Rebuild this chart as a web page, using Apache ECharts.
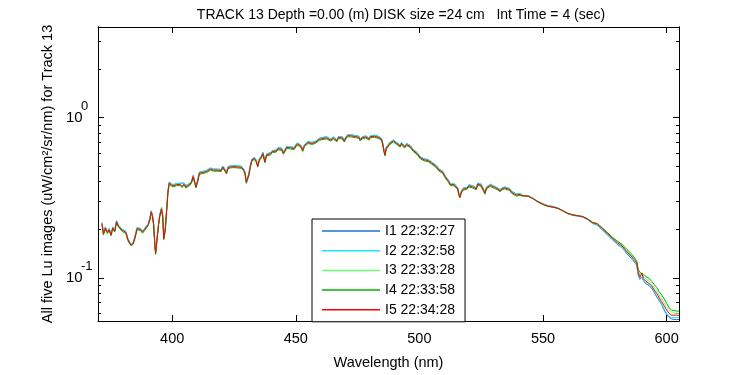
<!DOCTYPE html>
<html><head><meta charset="utf-8">
<script src="https://cdn.jsdelivr.net/npm/echarts@6/dist/echarts.min.js"></script>
<style>html,body{margin:0;padding:0;background:#fff}#c{width:750px;height:375px}</style>
</head><body><div id="c"></div>
<script>
const FONT = '"Liberation Sans",Arial,sans-serif';
const titleText = 'TRACK 13 Depth =0.00 (m) DISK size =24 cm   Int Time = 4 (sec)';
const xName = 'Wavelength (nm)';
const yName = 'All five Lu images (uW/cm\u00b2/sr/nm) for Track 13';
const seriesNames = ['I1 22:32:27','I2 22:32:58','I3 22:33:28','I4 22:33:58','I5 22:34:28'];
const seriesColors = ['#1a6fd8','#1ee6ff','#6cff6c','#00b000','#ff0000'];
const xTicks = [400,450,500,550,600];
const yMajorTicks = [0.1, 1];
const yMinorTicks = [0.06,0.07,0.08,0.09,0.2,0.3,0.4,0.5,0.6,0.7,0.8,0.9,2,3];

const wavelength = [
371.6,372.2,373.0,373.8,374.5,375.3,376.0,376.8,377.5,378.3,
379.0,379.8,380.5,381.3,382.0,382.8,383.5,384.3,385.0,385.8,
386.5,387.3,388.0,388.8,389.5,390.3,391.0,391.5,392.0,392.5,
393.0,393.3,393.8,394.5,395.0,395.7,396.2,396.6,397.2,397.7,
398.3,398.8,399.5,400.3,401.0,401.8,402.5,403.3,404.0,404.8,
405.5,406.3,407.0,407.8,408.5,409.0,409.6,410.3,411.0,411.8,
412.5,413.3,414.0,414.8,415.5,416.1,416.8,417.5,418.3,419.0,
419.8,420.5,421.3,422.0,422.6,423.5,424.3,425.0,425.8,426.5,
427.3,428.0,428.8,429.4,430.0,430.4,431.0,431.6,432.3,433.3,
434.0,434.6,435.3,436.0,436.7,437.5,438.2,439.0,439.8,440.5,
441.3,442.0,442.8,443.6,444.3,445.0,445.6,446.3,447.0,447.8,
448.5,449.3,450.0,450.6,451.3,452.0,452.8,453.5,454.3,455.0,
455.8,456.5,457.3,458.0,458.8,459.5,460.3,461.0,461.8,462.5,
463.3,464.0,464.6,465.3,466.0,466.6,467.3,468.0,468.8,469.6,
470.3,471.0,471.8,472.5,473.3,474.0,474.8,475.5,476.1,476.8,
477.5,478.3,479.0,479.6,480.3,481.0,481.8,482.5,483.3,484.0,
484.7,485.2,485.7,486.1,486.6,487.3,488.0,488.8,489.5,490.2,
490.8,491.5,492.2,492.8,493.5,494.0,494.8,495.5,496.3,497.0,
497.6,498.3,499.0,499.8,500.5,501.3,502.0,502.8,503.5,504.3,
505.0,505.8,506.5,507.2,508.0,508.8,509.5,510.2,511.0,511.8,
512.5,513.3,514.0,514.8,515.5,516.0,516.4,517.0,517.7,518.4,
519.2,520.0,520.8,521.5,522.3,523.0,523.6,524.4,525.0,525.8,
526.5,527.2,528.0,528.7,529.5,530.4,531.5,532.6,533.5,534.5,
535.5,536.5,537.3,538.3,539.3,540.3,542,544,546,548,
550,552,554,556,558,560,562,564,566,568,
570,572,574,576,578,580,582,584,586,587.9,
588.5,589.2,590.0,590.6,591.3,592.0,593.0,594.0,595.0,596.0,
597,598,599,600,601,602,603,604,605];

// I1 (blue)
const luI1 = [
.221,.191,.208,.195,.203,.189,.208,.199,.227,.213,
.218,.201,.206,.195,.178,.167,.162,.167,.183,.206,
.201,.203,.196,.203,.200,.218,.235,.262,.249,.218,
.162,.144,.173,.218,.249,.274,.244,.179,.203,.259,
.350,.396,.401,.381,.374,.388,.384,.389,.378,.391,
.376,.386,.388,.401,.436,.431,.376,.406,.457,.469,
.462,.472,.469,.477,.485,.497,.477,.473,.477,.469,
.475,.499,.492,.459,.495,.499,.492,.502,.497,.499,
.493,.497,.482,.462,.401,.391,.447,.502,.553,.564,
.543,.505,.556,.573,.607,.538,.594,.587,.604,.624,
.634,.627,.650,.655,.645,.609,.599,.662,.675,.658,
.655,.652,.670,.695,.680,.675,.633,.680,.686,.711,
.716,.700,.718,.713,.721,.743,.739,.753,.746,.759,
.749,.736,.729,.756,.759,.729,.763,.761,.759,.726,
.759,.784,.790,.782,.763,.773,.759,.766,.737,.759,
.773,.769,.776,.746,.773,.780,.776,.763,.766,.761,
.743,.690,.624,.594,.655,.675,.700,.716,.726,.739,
.700,.711,.675,.700,.692,.665,.690,.680,.670,.655,
.631,.624,.607,.609,.568,.566,.553,.556,.548,.533,
.528,.530,.508,.495,.477,.472,.462,.438,.426,.406,
.388,.386,.388,.378,.365,.335,.325,.350,.363,.370,
.367,.381,.384,.376,.384,.365,.391,.389,.384,.376,
.343,.370,.378,.384,.391,.372,.365,.355,.365,.369,
.365,.361,.347,.340,.333,.337,.327,.326,.314,.300,
.290,.282,.279,.273,.263,.252,.246,.243,.240,.231,
.219,.213,.199,.186,.173,.162,.154,.141,.131,.120,
.104,.098,.101,.096,.093,.091,.089,.086,.081,.076,
.072,.068,.063,.059,.0565,.0555,.055,.055,.055];

// I2 (cyan)
const luI2 = [
.221,.191,.208,.195,.203,.189,.208,.199,.227,.213,
.218,.201,.206,.195,.178,.167,.162,.167,.183,.206,
.201,.203,.196,.203,.200,.218,.235,.262,.249,.218,
.162,.144,.173,.218,.249,.274,.244,.179,.203,.259,
.350,.396,.401,.381,.374,.388,.384,.389,.378,.391,
.376,.386,.388,.401,.436,.431,.376,.406,.457,.469,
.462,.472,.469,.477,.485,.497,.477,.473,.477,.469,
.475,.499,.492,.459,.495,.499,.492,.502,.497,.499,
.493,.497,.482,.462,.401,.391,.447,.502,.553,.564,
.543,.505,.556,.573,.607,.538,.594,.587,.604,.624,
.634,.627,.650,.655,.645,.609,.599,.662,.675,.658,
.655,.652,.670,.695,.680,.675,.633,.680,.686,.711,
.716,.700,.718,.713,.721,.743,.739,.753,.746,.759,
.749,.736,.729,.756,.759,.729,.763,.761,.759,.726,
.759,.784,.790,.782,.763,.773,.759,.766,.737,.759,
.773,.769,.776,.746,.773,.780,.776,.763,.766,.761,
.743,.690,.624,.594,.655,.675,.700,.716,.726,.739,
.700,.711,.675,.700,.692,.665,.690,.680,.670,.655,
.631,.624,.607,.609,.568,.566,.553,.556,.548,.533,
.528,.530,.508,.495,.477,.472,.462,.438,.426,.406,
.388,.386,.388,.378,.365,.335,.325,.350,.363,.370,
.367,.381,.384,.376,.384,.365,.391,.389,.384,.376,
.343,.370,.378,.384,.391,.372,.365,.355,.365,.369,
.365,.361,.347,.340,.333,.337,.327,.326,.314,.300,
.290,.282,.279,.273,.263,.252,.246,.243,.240,.231,
.219,.214,.200,.187,.174,.163,.155,.142,.132,.121,
.105,.099,.102,.097,.094,.092,.090,.087,.082,.077,
.073,.069,.064,.060,.0575,.0565,.0565,.0565,.0565];

// I3 (light green)
const luI3 = [
.218,.188,.205,.192,.200,.186,.205,.196,.224,.210,
.215,.198,.203,.192,.175,.165,.160,.165,.180,.203,
.198,.200,.193,.200,.197,.215,.232,.258,.245,.215,
.160,.142,.170,.215,.245,.270,.240,.176,.200,.255,
.345,.390,.395,.375,.368,.382,.378,.383,.372,.385,
.370,.380,.382,.395,.430,.425,.370,.400,.450,.462,
.455,.465,.462,.470,.478,.490,.470,.466,.470,.462,
.468,.492,.485,.452,.488,.492,.485,.495,.490,.492,
.486,.490,.475,.455,.395,.385,.440,.495,.545,.556,
.535,.498,.548,.565,.598,.530,.585,.578,.595,.615,
.625,.618,.640,.645,.635,.600,.590,.652,.665,.648,
.645,.642,.660,.685,.670,.665,.624,.670,.676,.700,
.705,.690,.707,.702,.710,.732,.728,.742,.735,.748,
.738,.725,.718,.745,.748,.718,.752,.750,.748,.715,
.748,.772,.778,.770,.752,.762,.748,.755,.726,.748,
.762,.758,.765,.735,.762,.768,.765,.752,.755,.750,
.732,.680,.615,.585,.645,.665,.690,.705,.715,.728,
.690,.700,.665,.690,.682,.655,.680,.670,.660,.645,
.622,.615,.598,.600,.560,.558,.545,.548,.540,.525,
.520,.522,.500,.488,.470,.465,.455,.432,.420,.400,
.382,.380,.382,.372,.360,.330,.320,.345,.358,.365,
.362,.375,.378,.370,.378,.360,.385,.383,.378,.370,
.338,.365,.372,.378,.385,.367,.360,.350,.360,.364,
.360,.356,.342,.335,.328,.332,.325,.324,.312,.298,
.288,.280,.277,.272,.262,.252,.247,.244,.241,.233,
.221,.217,.204,.191,.178,.168,.160,.147,.137,.126,
.110,.104,.108,.102,.099,.097,.095,.091,.087,.083,
.078,.074,.070,.066,.063,.061,.060,.060,.060];

// I4 (green)
const luI4 = [
.215,.185,.202,.189,.197,.183,.202,.193,.221,.207,
.212,.195,.200,.189,.172,.163,.158,.163,.177,.200,
.195,.197,.190,.197,.194,.212,.229,.254,.241,.212,
.158,.140,.167,.212,.241,.266,.236,.173,.197,.251,
.340,.384,.389,.369,.362,.376,.372,.377,.366,.379,
.364,.374,.376,.389,.424,.419,.364,.394,.443,.455,
.448,.458,.455,.463,.471,.483,.463,.459,.463,.455,
.461,.485,.478,.445,.481,.485,.478,.488,.483,.485,
.479,.483,.468,.448,.389,.379,.433,.488,.537,.548,
.527,.491,.540,.557,.589,.522,.576,.569,.586,.606,
.616,.609,.630,.635,.625,.591,.581,.642,.655,.638,
.635,.632,.650,.675,.660,.655,.615,.660,.666,.690,
.694,.680,.696,.691,.699,.721,.717,.731,.724,.737,
.727,.714,.707,.734,.737,.707,.741,.739,.737,.704,
.737,.760,.766,.758,.741,.751,.737,.744,.715,.737,
.751,.747,.754,.724,.751,.756,.754,.741,.744,.739,
.721,.670,.606,.576,.635,.655,.680,.694,.704,.717,
.680,.690,.655,.680,.672,.645,.670,.660,.650,.635,
.613,.606,.589,.591,.552,.550,.537,.540,.532,.517,
.512,.514,.493,.481,.463,.458,.448,.426,.414,.394,
.376,.374,.376,.366,.355,.325,.315,.340,.353,.360,
.357,.369,.372,.364,.372,.355,.379,.377,.372,.364,
.333,.360,.366,.372,.379,.361,.355,.345,.355,.359,
.355,.351,.337,.330,.323,.327,.324,.323,.311,.297,
.287,.279,.276,.271,.262,.253,.248,.245,.242,.234,
.223,.218,.205,.192,.180,.170,.162,.150,.140,.128,
.113,.108,.110,.105,.103,.101,.099,.095,.091,.087,
.082,.078,.074,.0695,.065,.063,.0625,.062,.062];

// I5 (red)
const luI5 = [
.218,.188,.205,.192,.200,.186,.205,.196,.224,.210,
.215,.198,.203,.192,.175,.165,.160,.165,.180,.203,
.198,.200,.193,.200,.197,.215,.232,.258,.245,.215,
.160,.142,.170,.215,.245,.270,.240,.176,.200,.255,
.345,.390,.395,.375,.368,.382,.378,.383,.372,.385,
.370,.380,.382,.395,.430,.425,.370,.400,.450,.462,
.455,.465,.462,.470,.478,.490,.470,.466,.470,.462,
.468,.492,.485,.452,.488,.492,.485,.495,.490,.492,
.486,.490,.475,.455,.395,.385,.440,.495,.545,.556,
.535,.498,.548,.565,.598,.530,.585,.578,.595,.615,
.625,.618,.640,.645,.635,.600,.590,.652,.665,.648,
.645,.642,.660,.685,.670,.665,.624,.670,.676,.700,
.705,.690,.707,.702,.710,.732,.728,.742,.735,.748,
.738,.725,.718,.745,.748,.718,.752,.750,.748,.715,
.748,.772,.778,.770,.752,.762,.748,.755,.726,.748,
.762,.758,.765,.735,.762,.768,.765,.752,.755,.750,
.732,.680,.615,.585,.645,.665,.690,.705,.715,.728,
.690,.700,.665,.690,.682,.655,.680,.670,.660,.645,
.622,.615,.598,.600,.560,.558,.545,.548,.540,.525,
.520,.522,.500,.488,.470,.465,.455,.432,.420,.400,
.382,.380,.382,.372,.360,.330,.320,.345,.358,.365,
.362,.375,.378,.370,.378,.360,.385,.383,.378,.370,
.338,.365,.372,.378,.385,.367,.360,.350,.360,.364,
.360,.356,.342,.335,.328,.332,.325,.324,.312,.298,
.288,.280,.277,.272,.262,.252,.247,.244,.241,.233,
.221,.217,.203,.190,.177,.166,.158,.145,.135,.124,
.108,.101,.107,.099,.096,.094,.092,.089,.084,.080,
.075,.071,.067,.063,.060,.0585,.0585,.0585,.0585];

const seriesValues = [luI1, luI2, luI3, luI4, luI5];

const X_MIN = 370, X_MAX = 605, Y_MIN = 0.0538, Y_MAX = 3.68;
const black = '#000';
const chart = echarts.init(document.getElementById('c'), null, {renderer: 'canvas'});

function yAx(position, ticks, len, extra) {
  return Object.assign({
    type: 'log', logBase: 10, min: Y_MIN, max: Y_MAX, position: position,
    axisLine: {show: true, lineStyle: {color: black, width: 1}},
    axisTick: {show: true, inside: true, length: len, customValues: ticks, lineStyle: {color: black}},
    axisLabel: {show: false},
    splitLine: {show: false}, minorTick: {show: false}
  }, extra || {});
}

const option = {
  animation: false,
  backgroundColor: '#fff',
  textStyle: {fontFamily: FONT},
  title: {
    text: titleText, left: 396, top: 3, textAlign: 'center',
    textStyle: {fontFamily: FONT, fontSize: 14, fontWeight: 'normal', color: black}
  },
  grid: {left: 98, right: 71, top: 27, bottom: 43, containLabel: false},
  legend: {
    orient: 'vertical', left: 312, top: 219,
    data: seriesNames,
    icon: 'rect',
    backgroundColor: '#fff', borderColor: black, borderWidth: 1,
    padding: [5, 10, 5, 10],
    itemWidth: 58, itemHeight: 1.5, itemGap: 5.7,
    textStyle: {fontFamily: FONT, fontSize: 14, color: black, width: 64}
  },
  xAxis: [
    {
      type: 'value', min: X_MIN, max: X_MAX, position: 'bottom',
      name: xName, nameLocation: 'middle', nameGap: 34,
      nameTextStyle: {fontFamily: FONT, fontSize: 14.5, color: black},
      axisLine: {lineStyle: {color: black, width: 1}},
      axisTick: {inside: true, length: 6, customValues: xTicks, lineStyle: {color: black}},
      axisLabel: {customValues: xTicks, margin: 10, fontFamily: FONT, fontSize: 14.5, color: black},
      splitLine: {show: false}
    },
    {
      type: 'value', min: X_MIN, max: X_MAX, position: 'top',
      axisLine: {lineStyle: {color: black, width: 1}},
      axisTick: {inside: true, length: 6, customValues: xTicks, lineStyle: {color: black}},
      axisLabel: {show: false}, splitLine: {show: false}
    }
  ],
  yAxis: [
    yAx('left', yMajorTicks, 6, {
      name: yName, nameLocation: 'middle', nameGap: 36,
      nameTextStyle: {fontFamily: FONT, fontSize: 14.5, color: black},
      axisLabel: {show: true, customValues: yMajorTicks, align: 'left', margin: 32,
        fontFamily: FONT, fontSize: 15, color: black, formatter: function () { return '10'; }}
    }),
    yAx('left', yMinorTicks, 3, {
      axisLabel: {show: true, customValues: yMajorTicks, align: 'left', margin: 17,
        verticalAlign: 'bottom', lineHeight: 22,
        fontFamily: FONT, fontSize: 13, color: black,
        formatter: function (v) { return String(Math.round(Math.log10(v))); }}
    }),
    yAx('right', yMajorTicks, 6),
    yAx('right', yMinorTicks, 3)
  ],
  series: seriesNames.map(function (name, k) {
    return {
      name: name, type: 'line', xAxisIndex: 0, yAxisIndex: 0,
      symbol: 'none', showSymbol: false,
      color: seriesColors[k],
      lineStyle: {color: seriesColors[k], width: 1},
      data: wavelength.map(function (w, i) { return [w, seriesValues[k][i]]; }),
      z: 2 + k
    };
  })
};
chart.setOption(option);
</script>
</body></html>
